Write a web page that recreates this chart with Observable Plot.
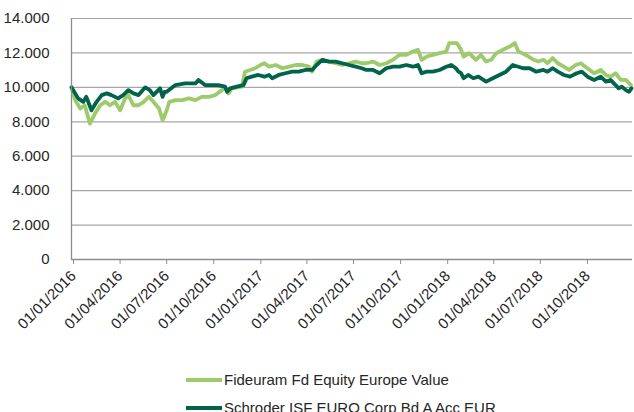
<!DOCTYPE html>
<html>
<head>
<meta charset="utf-8">
<script src="https://cdn.jsdelivr.net/npm/d3@7"></script>
<script src="https://cdn.jsdelivr.net/npm/@observablehq/plot@0.6"></script>
<style>
  html, body { margin: 0; padding: 0; background: #fff; }
  #wrap { position: relative; width: 634px; height: 412px; overflow: hidden; font-family: "Liberation Sans", Arial, sans-serif; }
  #legend { position: absolute; left: 186px; top: 366px; font-size: 15px; color: #262626; }
  .item { height: 28px; line-height: 28px; white-space: nowrap; }
  .swatch { display: inline-block; width: 36px; height: 4px; vertical-align: middle; margin-right: 2px; position: relative; top: -1px; }
</style>
</head>
<body>
<div id="wrap"><div id="chart"></div><div id="legend"></div></div>
<script>
const seriesNames = ["Fideuram Fd Equity Europe Value", "Schroder ISF EURO Corp Bd A Acc EUR"];
const seriesColors = ["#9dca6b", "#00634a"];

const fideuramDates = ["2016-01-01","2016-01-08","2016-01-18","2016-01-27","2016-02-06","2016-02-16","2016-02-26","2016-03-07","2016-03-16","2016-03-26","2016-04-05","2016-04-15","2016-04-21","2016-05-01","2016-05-11","2016-05-21","2016-05-31","2016-06-09","2016-06-20","2016-06-27","2016-07-05","2016-07-10","2016-07-22","2016-08-04","2016-08-17","2016-08-30","2016-09-12","2016-09-25","2016-10-08","2016-10-21","2016-10-27","2016-11-03","2016-11-09","2016-11-29","2016-12-05","2016-12-15","2016-12-25","2017-01-04","2017-01-12","2017-01-21","2017-02-03","2017-02-16","2017-03-01","2017-03-14","2017-03-27","2017-04-09","2017-04-15","2017-04-24","2017-05-05","2017-05-18","2017-05-31","2017-06-13","2017-06-26","2017-07-09","2017-07-21","2017-07-30","2017-08-12","2017-08-25","2017-09-07","2017-09-20","2017-10-03","2017-10-16","2017-10-29","2017-11-08","2017-11-15","2017-11-25","2017-12-07","2017-12-20","2018-01-02","2018-01-08","2018-01-18","2018-01-23","2018-01-31","2018-02-05","2018-02-16","2018-03-01","2018-03-11","2018-03-21","2018-03-31","2018-04-10","2018-04-23","2018-05-06","2018-05-16","2018-05-23","2018-05-30","2018-06-12","2018-06-22","2018-07-01","2018-07-11","2018-07-19","2018-07-29","2018-08-08","2018-08-20","2018-08-30","2018-09-12","2018-09-22","2018-10-05","2018-10-18","2018-10-31","2018-11-10","2018-11-19","2018-11-29","2018-12-09","2018-12-19","2018-12-29"];
const fideuramValues = [10000,9260,8770,8960,7890,8480,8960,9160,8960,9160,8670,9360,9550,8960,8960,9160,9450,9160,8770,8090,8670,9160,9260,9260,9360,9260,9450,9450,9550,9840,9950,9650,9940,10040,10910,11010,11110,11300,11400,11200,11300,11110,11200,11300,11300,11200,10910,11500,11600,11500,11400,11300,11400,11500,11400,11400,11500,11300,11400,11600,11890,11890,12080,12180,11600,11790,11890,11990,12080,12570,12570,12570,12180,11790,11990,11600,11890,11500,11600,11990,12180,12370,12570,12080,11990,11790,11600,11500,11600,11400,11700,11400,11200,11010,11300,11400,11110,10820,11010,10720,10620,10820,10430,10430,10130];

const schroderDates = ["2016-01-01","2016-01-14","2016-01-24","2016-01-30","2016-02-09","2016-02-19","2016-02-29","2016-03-10","2016-03-19","2016-04-01","2016-04-11","2016-04-21","2016-05-01","2016-05-11","2016-05-24","2016-06-02","2016-06-09","2016-06-22","2016-06-27","2016-07-01","2016-07-05","2016-07-22","2016-08-10","2016-08-30","2016-09-05","2016-09-18","2016-10-01","2016-10-14","2016-10-27","2016-10-31","2016-11-06","2016-11-19","2016-12-02","2016-12-08","2016-12-18","2016-12-31","2017-01-12","2017-01-21","2017-01-27","2017-02-09","2017-02-22","2017-03-07","2017-03-20","2017-04-02","2017-04-15","2017-04-24","2017-05-05","2017-05-18","2017-05-31","2017-06-13","2017-06-26","2017-07-09","2017-07-21","2017-07-30","2017-08-12","2017-08-25","2017-09-07","2017-09-20","2017-10-03","2017-10-16","2017-10-29","2017-11-08","2017-11-15","2017-11-25","2017-12-07","2017-12-20","2018-01-02","2018-01-12","2018-01-21","2018-01-26","2018-01-31","2018-02-05","2018-02-14","2018-02-24","2018-03-06","2018-03-21","2018-04-03","2018-04-16","2018-04-29","2018-05-12","2018-05-23","2018-06-01","2018-06-14","2018-06-27","2018-07-11","2018-07-19","2018-07-29","2018-08-08","2018-08-20","2018-09-01","2018-09-14","2018-09-24","2018-10-05","2018-10-18","2018-10-31","2018-11-10","2018-11-19","2018-11-29","2018-12-05","2018-12-11","2018-12-19","2018-12-25","2018-12-30"];
const schroderValues = [10000,9360,9160,9450,8670,9160,9550,9650,9550,9360,9550,9840,9650,9550,10000,9840,9550,9940,9450,9740,9740,10130,10230,10230,10430,10130,10130,10130,10040,9740,9940,10040,10130,10530,10620,10720,10620,10720,10530,10720,10820,10910,10910,11010,11010,11300,11600,11500,11500,11400,11300,11200,11110,11010,11010,10820,11110,11200,11200,11300,11200,11300,10820,10910,10910,11010,11200,11300,11110,10910,10820,10530,10720,10530,10620,10330,10530,10720,10910,11300,11200,11110,11110,10910,11010,10910,11110,10910,10720,10620,10820,10910,10620,10430,10620,10330,10430,10130,9940,10040,9840,9740,9940];

const yTicks = [0, 2000, 4000, 6000, 8000, 10000, 12000, 14000];
const xTickDates = ["2016-01-01","2016-04-01","2016-07-01","2016-10-01","2017-01-01","2017-04-01","2017-07-01","2017-10-01","2018-01-01","2018-04-01","2018-07-01","2018-10-01","2019-01-01"];
const xTickLabels = ["01/01/2016","01/04/2016","01/07/2016","01/10/2016","01/01/2017","01/04/2017","01/07/2017","01/10/2017","01/01/2018","01/04/2018","01/07/2018","01/10/2018",""];

const parse = d3.utcParse("%Y-%m-%d");
const fideuram = fideuramDates.map((d, i) => ({date: parse(d), value: fideuramValues[i]}));
const schroder = schroderDates.map((d, i) => ({date: parse(d), value: schroderValues[i]}));
const xTicks = xTickDates.map(parse);
const labelOf = new Map(xTicks.map((d, i) => [+d, xTickLabels[i]]));
const itFmt = d3.formatLocale({decimal: ",", thousands: ".", grouping: [3], currency: ["€", ""]}).format(",d");

const axisColor = "#8c8c8c";
const chart = Plot.plot({
  width: 634,
  height: 350,
  marginLeft: 71,
  marginRight: 2,
  marginTop: 18,
  marginBottom: 91,
  style: {fontFamily: "'Liberation Sans', Arial, sans-serif", fontSize: "15px", color: "#262626", background: "#fff"},
  x: {type: "utc", domain: [xTicks[0], xTicks[xTicks.length - 1]]},
  y: {domain: [0, 14000]},
  marks: [
    Plot.gridY(yTicks, {stroke: "#a6a6a6", strokeOpacity: 1, strokeWidth: 1.2}),
    Plot.axisY(yTicks, {tickSize: 0, tickPadding: 22, tickFormat: itFmt, fontSize: 15, label: null}),
    Plot.line(fideuram, {x: "date", y: "value", stroke: seriesColors[0], strokeWidth: 3.8, strokeLinejoin: "round"}),
    Plot.line(schroder, {x: "date", y: "value", stroke: seriesColors[1], strokeWidth: 3.8, strokeLinejoin: "round"}),
    Plot.ruleX([xTicks[0]], {stroke: axisColor, strokeWidth: 1.3}),
    Plot.ruleY([0], {stroke: axisColor, strokeWidth: 1.3}),
    Plot.axisX(xTicks, {tickRotate: -45, tickSize: 5, tickPadding: 9, dx: 2, stroke: axisColor, tickFormat: d => labelOf.get(+d), fontSize: 15, label: null})
  ]
});
document.getElementById("chart").appendChild(chart);

const legend = document.getElementById("legend");
seriesNames.forEach((name, i) => {
  const row = document.createElement("div");
  row.className = "item";
  const sw = document.createElement("span");
  sw.className = "swatch";
  sw.style.background = seriesColors[i];
  row.appendChild(sw);
  row.appendChild(document.createTextNode(name));
  legend.appendChild(row);
});
</script>
</body>
</html>
